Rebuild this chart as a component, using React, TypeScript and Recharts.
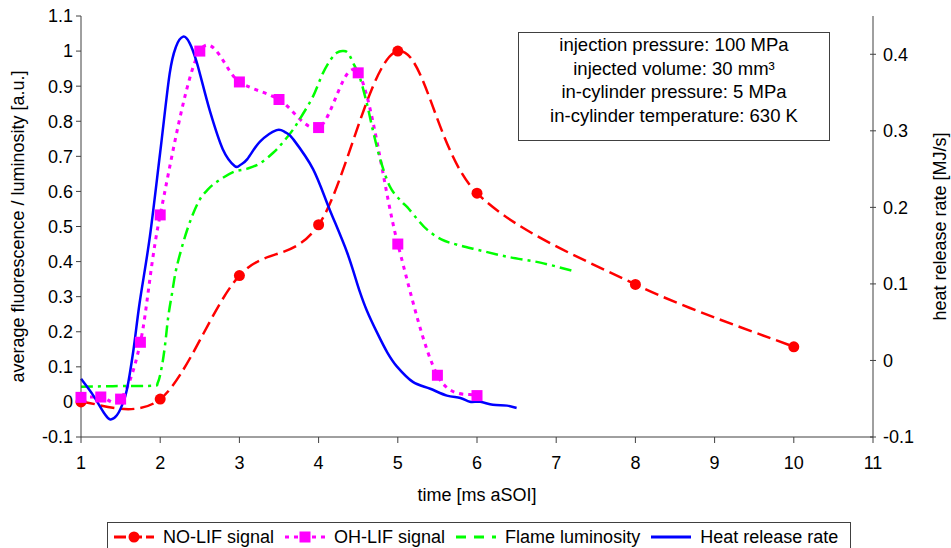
import React from "react";
import { ComposedChart, Line, XAxis, YAxis } from "recharts";

// values
const noLifTime = [1, 2, 3, 4, 5, 6, 8, 10];
const noLifSignal = [0.0, 0.008, 0.36, 0.505, 1.0, 0.595, 0.335, 0.157];

const ohLifTime = [1, 1.25, 1.5, 1.75, 2, 2.5, 3, 3.5, 4, 4.5, 5, 5.5, 6];
const ohLifSignal = [0.013, 0.014, 0.008, 0.17, 0.533, 1.0, 0.912, 0.862, 0.782, 0.938, 0.45, 0.076, 0.018];

const flameTime = [
  1.0, 1.4, 1.9, 1.97, 2.02, 2.06, 2.1, 2.15, 2.21, 2.34, 2.48, 2.6, 2.72, 2.92, 3.1, 3.26, 3.43, 3.55,
  3.68, 3.8, 3.93, 4.05, 4.15, 4.23, 4.3, 4.37, 4.45, 4.52, 4.61, 4.69, 4.78, 4.9, 5.03, 5.12, 5.25,
  5.37, 5.55, 5.75, 6.0, 6.38, 6.8, 7.2,
];
const flameLuminosity = [
  0.043, 0.045, 0.046, 0.055, 0.1, 0.16, 0.24, 0.31, 0.386, 0.49, 0.569, 0.605, 0.628, 0.655, 0.665,
  0.68, 0.711, 0.74, 0.777, 0.82, 0.871, 0.935, 0.975, 0.995, 1.0, 0.995, 0.96, 0.925, 0.85, 0.77,
  0.69, 0.614, 0.575, 0.555, 0.52, 0.491, 0.463, 0.448, 0.434, 0.414, 0.397, 0.374,
];

const heatTime = [
  1.0, 1.15, 1.3, 1.37, 1.45, 1.52, 1.58, 1.66, 1.74, 1.87, 2.0, 2.12, 2.2, 2.29, 2.37, 2.46, 2.63,
  2.79, 2.94, 3.02, 3.1, 3.26, 3.47, 3.58, 3.68, 3.93, 4.14, 4.36, 4.52, 4.61, 4.74, 4.87, 4.99, 5.19,
  5.41, 5.62, 5.79, 5.91, 6.04, 6.2, 6.38, 6.5,
];
const heatRelease = [
  -0.024, -0.045, -0.07, -0.077, -0.072, -0.058, -0.038, 0.012, 0.075, 0.162, 0.272, 0.375, 0.41,
  0.423, 0.415, 0.39, 0.325, 0.276, 0.254, 0.256, 0.263, 0.286, 0.301, 0.298, 0.289, 0.25, 0.197,
  0.141, 0.09, 0.065, 0.036, 0.01, -0.008, -0.028, -0.037, -0.046, -0.049, -0.054, -0.054, -0.058,
  -0.059, -0.062,
];

const timeTicks = [1, 2, 3, 4, 5, 6, 7, 8, 9, 10, 11];
const leftTicks = [-0.1, 0, 0.1, 0.2, 0.3, 0.4, 0.5, 0.6, 0.7, 0.8, 0.9, 1, 1.1];
const rightTicks = [-0.1, 0, 0.1, 0.2, 0.3, 0.4];

const noteLines = [
  "injection pressure: 100 MPa",
  "injected volume: 30 mm³",
  "in-cylinder pressure: 5 MPa",
  "in-cylinder temperature: 630 K",
];

const toRows = (xs: number[], ys: number[]) => xs.map((x, i) => ({ x, y: ys[i] }));

const noLifData = toRows(noLifTime, noLifSignal);
const ohLifData = toRows(ohLifTime, ohLifSignal);
const flameData = toRows(flameTime, flameLuminosity);
const heatData = toRows(heatTime, heatRelease);

// Excel-style smoothed line (Catmull-Rom through the points)
const smooth = (context: any) => {
  let pts: number[][] = [];
  return {
    areaStart() {},
    areaEnd() {},
    lineStart() {
      pts = [];
    },
    point(x: number, y: number) {
      pts.push([+x, +y]);
    },
    lineEnd() {
      const n = pts.length;
      if (!n) return;
      context.moveTo(pts[0][0], pts[0][1]);
      for (let i = 0; i < n - 1; i++) {
        const p0 = pts[Math.max(i - 1, 0)];
        const p1 = pts[i];
        const p2 = pts[i + 1];
        const p3 = pts[Math.min(i + 2, n - 1)];
        context.bezierCurveTo(
          p1[0] + (p2[0] - p0[0]) / 6,
          p1[1] + (p2[1] - p0[1]) / 6,
          p2[0] - (p3[0] - p1[0]) / 6,
          p2[1] - (p3[1] - p1[1]) / 6,
          p2[0],
          p2[1]
        );
      }
    },
  };
};

const RED = "#ff0000";
const MAGENTA = "#ff00ff";
const GREEN = "#00ff00";
const BLUE = "#0000ff";
const AXIS = "#404040";
const FONT = "'Liberation Sans', Arial, sans-serif";

const CircleDot = (props: any) => {
  const { cx, cy, index } = props;
  return <circle key={`c${index}`} cx={cx} cy={cy} r={5.5} fill={RED} />;
};

const SquareDot = (props: any) => {
  const { cx, cy, index } = props;
  return <rect key={`s${index}`} x={cx - 5.5} y={cy - 5.5} width={11} height={11} fill={MAGENTA} />;
};

const fmt = (v: number) => String(Math.round(v * 10) / 10);

const legendItems = [
  { name: "NO-LIF signal", color: RED, dash: "12 4", marker: "circle" },
  { name: "OH-LIF signal", color: MAGENTA, dash: "4 5", marker: "square" },
  { name: "Flame luminosity", color: GREEN, dash: "10 8", marker: "none" },
  { name: "Heat release rate", color: BLUE, dash: "", marker: "none" },
];

export default function App() {
  return (
    <div
      style={{
        position: "absolute",
        left: 0,
        top: 0,
        width: 951,
        height: 548,
        overflow: "hidden",
        background: "#fff",
        fontFamily: FONT,
      }}
    >
      <ComposedChart width={951} height={548} margin={{ top: 16, right: 0, bottom: 0, left: 0 }}>
        <XAxis
          xAxisId="b"
          type="number"
          dataKey="x"
          domain={[1, 11]}
          ticks={timeTicks}
          interval={0}
          height={111}
          tickSize={6}
          tickMargin={13}
          stroke={AXIS}
          tick={{ fontSize: 18, fill: "#000" }}
          label={{ value: "time [ms aSOI]", position: "insideTop", offset: 51, fontSize: 18, fill: "#000" }}
        />
        <XAxis
          xAxisId="t"
          orientation="top"
          type="number"
          dataKey="x"
          domain={[1, 11]}
          ticks={timeTicks}
          interval={0}
          height={0}
          tick={false}
          tickSize={6}
          tickLine={{ transform: "translate(0,3)" }}
          stroke={AXIS}
        />
        <YAxis
          yAxisId="l"
          type="number"
          domain={[-0.1, 1.1]}
          ticks={leftTicks}
          interval={0}
          width={81}
          tickSize={5}
          tickMargin={3}
          stroke={AXIS}
          tickFormatter={fmt}
          tick={{ fontSize: 18, fill: "#000" }}
          label={{
            value: "average fluorescence / luminosity [a.u.]",
            angle: -90,
            position: "insideLeft",
            offset: 18,
            fontSize: 18,
            fill: "#000",
            style: { textAnchor: "middle" },
          }}
        />
        <YAxis
          yAxisId="r"
          orientation="right"
          type="number"
          domain={[-0.1, 0.45]}
          ticks={rightTicks}
          interval={0}
          width={78}
          tickSize={6}
          tickMargin={4}
          tickLine={{ transform: "translate(-3,0)" }}
          stroke={AXIS}
          tickFormatter={fmt}
          tick={{ fontSize: 18, fill: "#000" }}
          label={{
            value: "heat release rate [MJ/s]",
            angle: -90,
            position: "insideRight",
            offset: 11,
            fontSize: 18,
            fill: "#000",
            style: { textAnchor: "middle" },
          }}
        />
        <Line
          xAxisId="b"
          yAxisId="l"
          data={noLifData}
          dataKey="y"
          type={smooth as any}
          stroke={RED}
          strokeWidth={2.5}
          strokeDasharray="14 6"
          dot={CircleDot}
          activeDot={false}
          isAnimationActive={false}
        />
        <Line
          xAxisId="b"
          yAxisId="l"
          data={ohLifData}
          dataKey="y"
          type={smooth as any}
          stroke={MAGENTA}
          strokeWidth={3}
          strokeDasharray="4 5"
          dot={SquareDot}
          activeDot={false}
          isAnimationActive={false}
        />
        <Line
          xAxisId="b"
          yAxisId="l"
          data={flameData}
          dataKey="y"
          type={smooth as any}
          stroke={GREEN}
          strokeWidth={2.5}
          strokeDasharray="12 5 3 5"
          dot={false}
          activeDot={false}
          isAnimationActive={false}
        />
        <Line
          xAxisId="b"
          yAxisId="r"
          data={heatData}
          dataKey="y"
          type={smooth as any}
          stroke={BLUE}
          strokeWidth={2.5}
          dot={false}
          activeDot={false}
          isAnimationActive={false}
        />
      </ComposedChart>

      <div
        style={{
          position: "absolute",
          left: 518,
          top: 32,
          width: 310,
          height: 107,
          border: "1px solid #404040",
          background: "#fff",
          textAlign: "center",
          fontSize: 18.5,
          lineHeight: "23.5px",
          color: "#000",
        }}
      >
        {noteLines.map((t) => (
          <div key={t}>{t}</div>
        ))}
      </div>

      <div
        style={{
          position: "absolute",
          left: 107,
          top: 522,
          width: 744,
          height: 32,
          border: "1px solid #404040",
          display: "flex",
          alignItems: "flex-start",
          paddingLeft: 5,
          boxSizing: "border-box",
          fontSize: 18,
          color: "#000",
        }}
      >
        {legendItems.map((it) => (
          <div key={it.name} style={{ display: "flex", alignItems: "center", height: 28, marginRight: 10 }}>
            <svg width={42} height={16} style={{ marginRight: 8 }}>
              <line
                x1={1}
                y1={8}
                x2={41}
                y2={8}
                stroke={it.color}
                strokeWidth={3}
                strokeDasharray={it.dash || undefined}
              />
              {it.marker === "circle" && <circle cx={21} cy={8} r={5.5} fill={it.color} />}
              {it.marker === "square" && <rect x={15.5} y={2.5} width={11} height={11} fill={it.color} />}
            </svg>
            <span>{it.name}</span>
          </div>
        ))}
      </div>
    </div>
  );
}
